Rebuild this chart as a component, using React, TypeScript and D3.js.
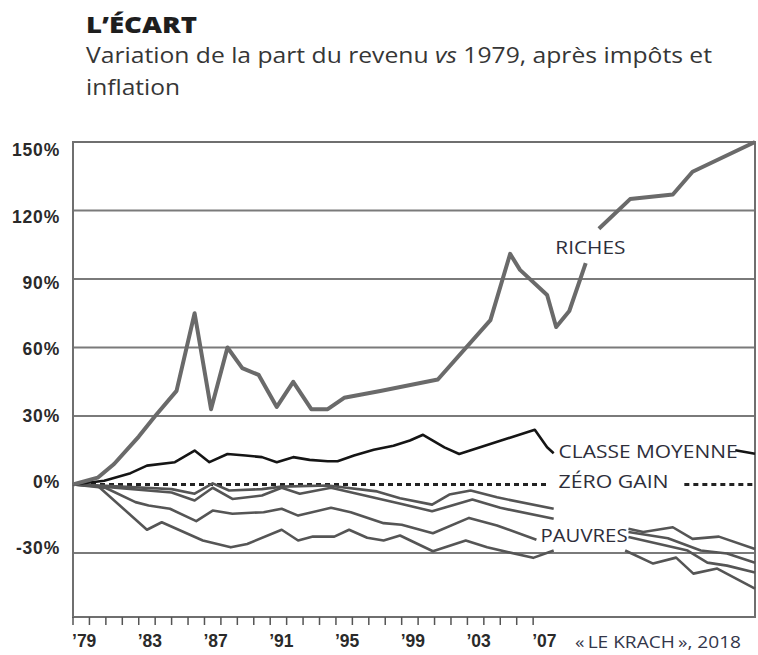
import * as d3 from 'd3';

// variation de la part du revenu vs 1979, en %  ([année, valeur], null = coupure)
const riches: [number, number | null][] = [
  [1979, 0], [1980.5, 3], [1981.5, 9], [1983, 21], [1984, 30], [1985.3, 41],
  [1986.4, 75], [1987.4, 33], [1988.4, 60], [1989.3, 51], [1990.3, 48],
  [1991.4, 34], [1992.4, 45], [1993.5, 33], [1994.5, 33], [1995.5, 38],
  [1997.7, 41], [2001.2, 46], [2004.4, 72], [2005.6, 101], [2006.2, 94],
  [2007.85, 83], [2008.4, 69], [2009.2, 76], [2010.2, 97], [2010.6, null],
  [2011, 112], [2012.9, 125], [2015.5, 127], [2016.7, 137], [2020.5, 150],
];

const classeMoyenne: [number, number | null][] = [
  [1979, 0], [1980.9, 1.7], [1982.5, 5], [1983.5, 8.3], [1985.2, 9.8],
  [1986.4, 14.9], [1987.3, 9.8], [1988.4, 13.4], [1989.5, 12.7], [1990.5, 12],
  [1991.4, 9.8], [1992.4, 12], [1993.4, 10.8], [1994.5, 10.2], [1995.1, 10.2],
  [1996.1, 12.7], [1997.3, 15.2], [1998.5, 17], [1999.5, 19.3], [2000.3, 21.8],
  [2001.6, 16.3], [2002.5, 13.4], [2007.1, 24], [2007.85, 16.3], [2008.25, 13.7],
  [2010, null], [2019.3, 15], [2020.5, 13.5],
];

const pauvres1: [number, number | null][] = [
  [1979, 0], [1981, -0.5], [1985, -2], [1986.4, -4], [1987.5, 0.5], [1988.5, -2.6],
  [1990.5, -2], [1991.7, -0.9], [1994.5, -0.4], [1997.5, -3], [1998.9, -6],
  [2000.85, -8.8], [2001.9, -4.4], [2003.2, -2.6], [2004.8, -5.6], [2008.25, -10.6],
  [2010, null], [2012.8, -19.4], [2013.7, -20.8], [2015.5, -18.7], [2016.7, -23.8],
  [2018.3, -22.8], [2020.5, -28.2],
];

const pauvres2: [number, number | null][] = [
  [1979, 0], [1981, -1], [1985, -3.5], [1986.4, -7], [1987.5, -1.4], [1988.7, -6.3],
  [1990.5, -4.8], [1991.7, -1.4], [1992.8, -4], [1994.7, -1.4], [1999, -8.5],
  [2000.85, -11.7], [2003.3, -6.6], [2005, -10.2], [2008.25, -15],
  [2010, null], [2012.8, -20.8], [2015.2, -23.5], [2017.2, -28.9], [2018.8, -30.2],
  [2020.5, -34.2],
];

const pauvres3: [number, number | null][] = [
  [1979, 0], [1981, -1.5], [1982.8, -7.7], [1983.6, -9.2], [1984.9, -10.6],
  [1986.5, -16], [1987.5, -11.4], [1988.7, -12.8], [1990.6, -12.1], [1991.7, -10.6],
  [1992.7, -13.6], [1994.7, -10.2], [1995.9, -12.1], [1997.9, -16.9], [1999, -17.6],
  [2000.9, -21.3], [2003.1, -14.6], [2004.8, -17.9], [2007.2, -24.2],
  [2010, null], [2012.8, -23], [2016.4, -28.9], [2017.6, -34.2], [2018.8, -35.5],
  [2020.5, -38.5],
];

const pauvres4: [number, number | null][] = [
  [1979, 0], [1980.5, -0.5], [1983.5, -19.8], [1984.4, -16.5], [1986.9, -24.5],
  [1988.6, -27.5], [1989.6, -26], [1991.7, -19.8], [1992.7, -24.5], [1993.6, -22.8],
  [1994.9, -22.8], [1995.8, -19.8], [1996.9, -23.3], [1997.9, -24.5], [1998.9, -22.3],
  [2000.9, -29.2], [2002.9, -24.5], [2004.2, -27.5], [2007, -32.1], [2008.25, -28.9],
  [2010, null], [2012.6, -28.9], [2014.3, -34.6], [2015.7, -32], [2016.75, -39],
  [2018.2, -36.8], [2020.5, -45.6],
];

// ligne « zéro gain » : deux tronçons
const zeroGain: [number, number][][] = [
  [[1979, 0], [2007.85, 0]],
  [[2016.2, 0], [2020.5, 0]],
];

const yTicks = [150, 120, 90, 60, 30, 0, -30];
const gridValues = [120, 90, 60, 30, -30];
const xTickYears = d3.range(1979, 2008);
const xLabelYears = [1979, 1983, 1987, 1991, 1995, 1999, 2003, 2007];

const annotations: { text: string; year: number; value: number; len: number }[] = [
  { text: 'RICHES', year: 2008.35, value: 103.7, len: 70 },
  { text: 'CLASSE MOYENNE', year: 2008.55, value: 14.5, len: 179 },
  { text: 'ZÉRO GAIN', year: 2008.55, value: 1.3, len: 110 },
  { text: 'PAUVRES', year: 2007.45, value: -22.3, len: 87 },
];

const W = 758;
const H = 655;
const left = 73;
const right = 755;
const top = 142;
const bottom = 617;

export default function App() {
  const x = d3.scaleLinear().domain([1979, 2020.5]).range([left, right]);
  const y = d3.scaleLinear().domain([-58, 150]).range([bottom, top]);
  // les étiquettes de l'axe sont un peu plus serrées que la grille
  const yLabel = d3.scaleLinear().domain([150, -30]).range([150, 548]);

  const line = d3
    .line<[number, number | null]>()
    .defined((d) => d[1] !== null)
    .x((d) => x(d[0]))
    .y((d) => y(d[1] as number));

  const sans = '"Open Sans", sans-serif';
  const label = { fontFamily: sans, fontSize: 17.3, fill: '#2e2e3a' };

  return (
    <div style={{ position: 'absolute', left: 0, top: 0 }}>
      <svg width={W} height={H} style={{ display: 'block', background: '#fff' }}>
        <text
          x={86}
          y={33}
          textLength={111}
          lengthAdjust="spacingAndGlyphs"
          style={{ fontFamily: sans, fontWeight: 800, fontSize: 22, fill: '#1e1e1e' }}
        >
          L’ÉCART
        </text>
        <text
          x={86}
          y={63}
          textLength={626}
          lengthAdjust="spacingAndGlyphs"
          style={{ fontFamily: sans, fontSize: 22, fill: '#363636' }}
        >
          Variation de la part du revenu <tspan fontStyle="italic">vs</tspan> 1979, après impôts et
        </text>
        <text
          x={86}
          y={95}
          textLength={94}
          lengthAdjust="spacingAndGlyphs"
          style={{ fontFamily: sans, fontSize: 22, fill: '#363636' }}
        >
          inflation
        </text>

        {/* grille */}
        {gridValues.map((v) => (
          <line key={v} x1={left} x2={right} y1={y(v)} y2={y(v)} stroke="#7a7a7a" strokeWidth={2} />
        ))}
        <rect x={left} y={top} width={right - left} height={bottom - top} fill="none" stroke="#6f6f6f" strokeWidth={2} />

        {/* axe des x */}
        {xTickYears.map((yr) => (
          <line key={yr} x1={x(yr)} x2={x(yr)} y1={bottom} y2={bottom + 8} stroke="#555" strokeWidth={1.5} />
        ))}
        {xLabelYears.map((yr) => (
          <text
            key={yr}
            x={x(yr) - 1}
            y={647}
            style={{ fontFamily: '"Liberation Sans", Arial, sans-serif', fontWeight: 700, fontSize: 17.5, fill: '#2a2a2a' }}
          >
            ’{String(yr).slice(2)}
          </text>
        ))}
        <text
          x={575}
          y={648}
          textLength={166}
          lengthAdjust="spacingAndGlyphs"
          style={{ fontFamily: sans, fontSize: 16, fill: '#33364a' }}
        >
          «&#8201;LE KRACH&#8201;», 2018
        </text>

        {/* axe des y */}
        {yTicks.map((v) => (
          <text
            key={v}
            x={60}
            y={yLabel(v)}
            dy="0.36em"
            textAnchor="end"
            style={{ fontFamily: '"Liberation Sans", Arial, sans-serif', fontWeight: 700, fontSize: 17.5, fill: '#2a2a2a', letterSpacing: 0.8 }}
          >
            {v}%
          </text>
        ))}

        {/* séries */}
        {zeroGain.map((seg, i) => (
          <path key={i} d={line(seg) ?? ''} fill="none" stroke="#222" strokeWidth={3} strokeDasharray="5,4" />
        ))}
        {[pauvres1, pauvres2, pauvres3, pauvres4].map((s, i) => (
          <path key={i} d={line(s) ?? ''} fill="none" stroke="#555" strokeWidth={2.6} strokeLinejoin="round" />
        ))}
        <path d={line(classeMoyenne) ?? ''} fill="none" stroke="#151515" strokeWidth={2.6} strokeLinejoin="round" />
        <path d={line(riches) ?? ''} fill="none" stroke="#6a6a6a" strokeWidth={4} strokeLinejoin="round" />

        {annotations.map((a) => (
          <text
            key={a.text}
            x={x(a.year)}
            y={y(a.value)}
            dy="0.36em"
            textLength={a.len}
            lengthAdjust="spacingAndGlyphs"
            style={label}
          >
            {a.text}
          </text>
        ))}
      </svg>
    </div>
  );
}
